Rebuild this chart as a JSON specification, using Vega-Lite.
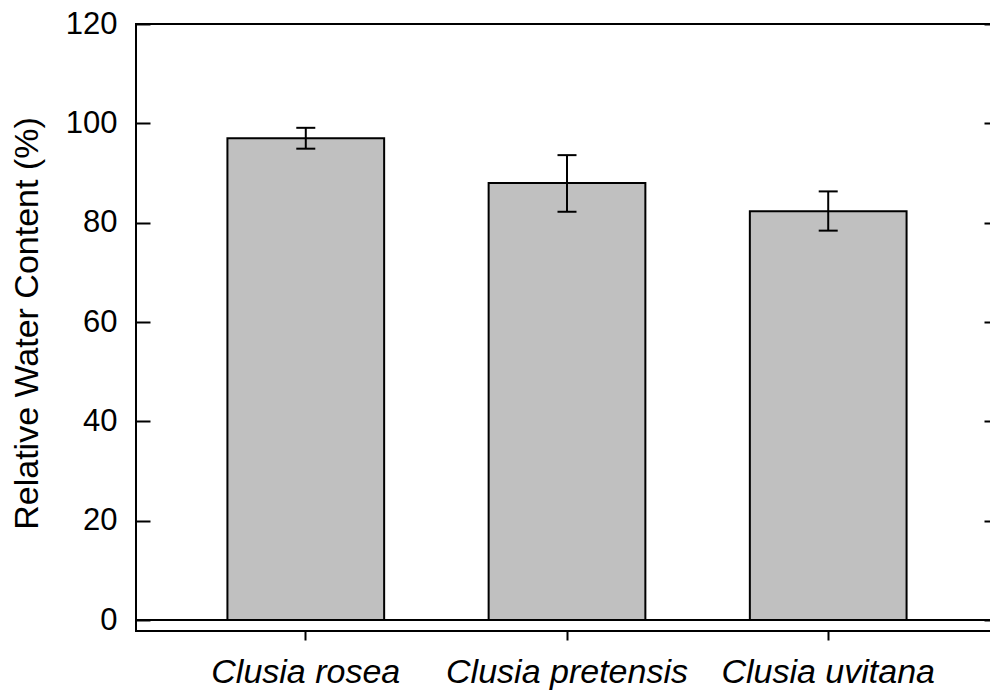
{
  "$schema": "https://vega.github.io/schema/vega-lite/v6.json",
  "autosize": "none",
  "padding": {"left": 136, "top": 24, "right": 0, "bottom": 63},
  "width": 862,
  "height": 607,
  "background": "white",
  "config": {
    "font": "Liberation Sans",
    "view": {"stroke": "#000", "strokeWidth": 2},
    "axis": {"labelColor": "#000", "titleColor": "#000", "tickColor": "#000", "domain": false, "grid": false, "labelFont": "Liberation Sans", "titleFont": "Liberation Sans", "titleFontWeight": "normal", "tickWidth": 2, "labelLimit": 0}
  },
  "data": {
    "values": [
      {"species": "Clusia rosea", "rwc": 97.0, "lower": 94.9, "upper": 99.1},
      {"species": "Clusia pretensis", "rwc": 88.0, "lower": 82.2, "upper": 93.6},
      {"species": "Clusia uvitana", "rwc": 82.3, "lower": 78.4, "upper": 86.3}
    ]
  },
  "encoding": {
    "x": {
      "field": "species", "type": "nominal", "sort": null,
      "scale": {"paddingInner": 0.4, "paddingOuter": 0.35},
      "axis": {"title": null, "labelAngle": 0, "labelFontSize": 34, "labelFontStyle": "italic", "tickSize": 9, "labelPadding": 15, "labelLimit": 0}
    }
  },
  "layer": [
    {
      "mark": {"type": "bar", "fill": "#c0c0c0", "stroke": "#000", "strokeWidth": 2},
      "encoding": {
        "y": {
          "field": "rwc", "type": "quantitative",
          "scale": {"domain": [-2.2, 120], "nice": false, "zero": false},
          "axis": {"title": "Relative Water Content (%)", "orient": "left", "values": [0, 20, 40, 60, 80, 100, 120], "tickSize": -14, "labelPadding": 33, "labelFontSize": 31, "titleFontSize": 34, "titleX": -99, "titleY": 299, "titleBaseline": "alphabetic", "titleAngle": -90, "titleAlign": "center"}
        },
        "y2": {"datum": 0}
      }
    },
    {
      "mark": {"type": "rule", "stroke": "#000", "strokeWidth": 2},
      "encoding": {
        "y": {"datum": 0, "type": "quantitative", "axis": {"orient": "right", "labels": false, "title": null, "values": [0, 20, 40, 60, 80, 100, 120], "tickSize": -14}},
        "x": {"value": 0},
        "x2": {"value": 862}
      }
    },
    {
      "mark": {"type": "rule", "stroke": "#000", "strokeWidth": 2},
      "encoding": {
        "y": {"field": "lower", "type": "quantitative", "axis": null},
        "y2": {"field": "upper"}
      }
    },
    {
      "mark": {"type": "tick", "color": "#000", "size": 19, "thickness": 2, "opacity": 1},
      "encoding": {"y": {"field": "upper", "type": "quantitative", "axis": null}}
    },
    {
      "mark": {"type": "tick", "color": "#000", "size": 19, "thickness": 2, "opacity": 1},
      "encoding": {"y": {"field": "lower", "type": "quantitative", "axis": null}}
    }
  ],
  "resolve": {"axis": {"y": "independent"}}
}
